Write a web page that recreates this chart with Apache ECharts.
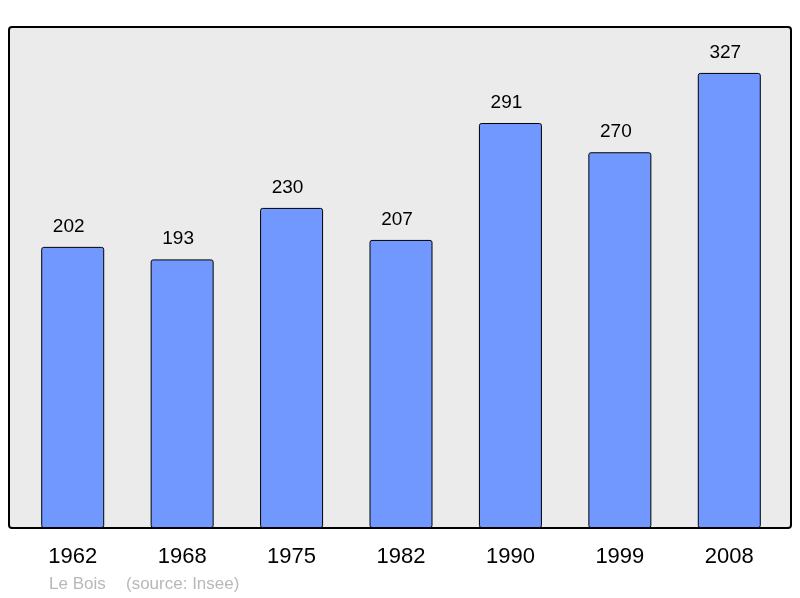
<!DOCTYPE html>
<html><head><meta charset="utf-8">
<script src="https://cdn.jsdelivr.net/npm/echarts@6/dist/echarts.min.js"></script>
<style>html,body{margin:0;padding:0;background:#fff}#c{width:800px;height:598px}</style>
</head><body><div id="c"></div>
<script>
const categories = ['1962','1968','1975','1982','1990','1999','2008'];
const populations = [202,193,230,207,291,270,327];
const footerPlace = 'Le Bois';
const footerSource = '(source: Insee)';

const chart = echarts.init(document.getElementById('c'), null, {renderer:'canvas'});
chart.setOption({
  animation:false,
  backgroundColor:'#ffffff',
  textStyle:{fontFamily:'Liberation Sans, Arial, sans-serif'},
  grid:{left:18, right:16, top:27, bottom:70},
  xAxis:{type:'category', data:categories,
    axisLine:{show:false}, axisTick:{show:false},
    axisLabel:{color:'#000', fontSize:22, margin:18, fontFamily:'Liberation Sans, Arial, sans-serif'}},
  yAxis:{type:'value', min:0, max:360, show:false, splitLine:{show:false}},
  graphic:[
    {type:'rect', z:0, shape:{x:9, y:27, width:782, height:501, r:3},
     style:{fill:'#ebebeb', stroke:'#000', lineWidth:2}},
    {type:'text', left:49, top:576, style:{text:footerPlace, fill:'#b8b8b8', font:'17px "Liberation Sans", Arial, sans-serif'}},
    {type:'text', left:126, top:576, style:{text:footerSource, fill:'#b8b8b8', font:'17px "Liberation Sans", Arial, sans-serif'}}
  ],
  series:[{type:'bar', data:populations, barWidth:63, z:3,
    itemStyle:{color:'#7098ff', borderColor:'#000', borderWidth:1, borderRadius:2},
    label:{show:true, position:'top', distance:11, offset:[-4,0], color:'#000', fontSize:19, fontFamily:'Liberation Sans, Arial, sans-serif'}
  }]
});
</script></body></html>
